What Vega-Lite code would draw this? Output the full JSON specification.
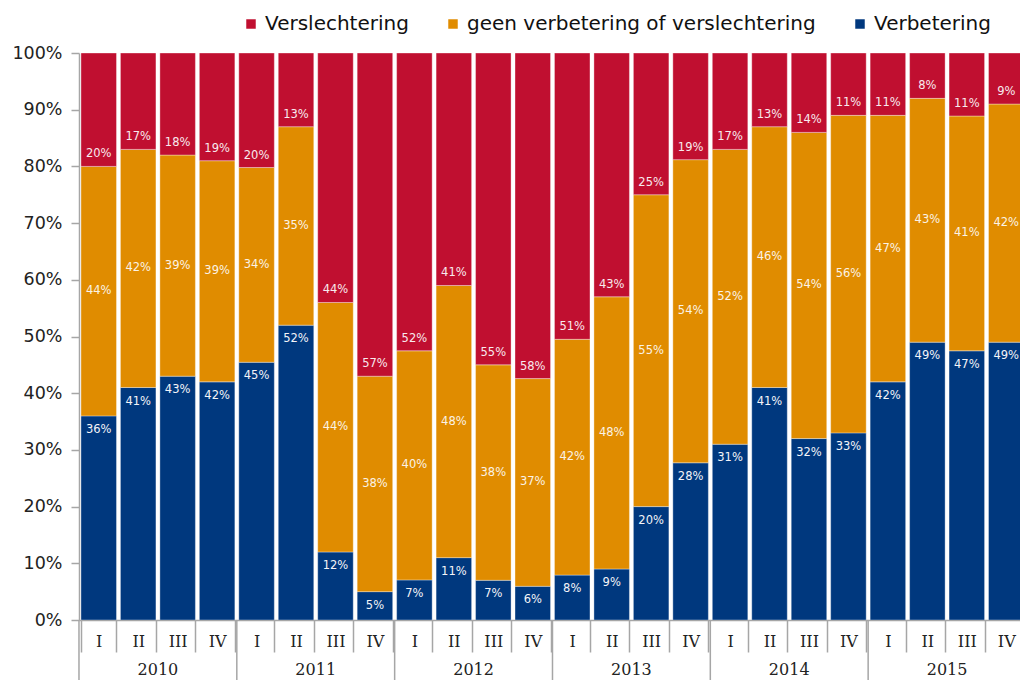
{
  "$schema": "https://vega.github.io/schema/vega-lite/v6.json",
  "width": 941,
  "height": 567,
  "autosize": {"type": "none"},
  "padding": {"left": 79, "top": 53, "right": 0, "bottom": 60},
  "background": "white",
  "config": {
    "view": {"stroke": null},
    "axis": {"grid": false}
  },
  "datasets": {
    "main": [
      {"period": "2010 I", "up": 0.36, "same": 0.44, "down": 0.20},
      {"period": "2010 II", "up": 0.41, "same": 0.42, "down": 0.17},
      {"period": "2010 III", "up": 0.43, "same": 0.39, "down": 0.18},
      {"period": "2010 IV", "up": 0.42, "same": 0.39, "down": 0.19},
      {"period": "2011 I", "up": 0.45, "same": 0.34, "down": 0.20},
      {"period": "2011 II", "up": 0.52, "same": 0.35, "down": 0.13},
      {"period": "2011 III", "up": 0.12, "same": 0.44, "down": 0.44},
      {"period": "2011 IV", "up": 0.05, "same": 0.38, "down": 0.57},
      {"period": "2012 I", "up": 0.07, "same": 0.40, "down": 0.52},
      {"period": "2012 II", "up": 0.11, "same": 0.48, "down": 0.41},
      {"period": "2012 III", "up": 0.07, "same": 0.38, "down": 0.55},
      {"period": "2012 IV", "up": 0.06, "same": 0.37, "down": 0.58},
      {"period": "2013 I", "up": 0.08, "same": 0.42, "down": 0.51},
      {"period": "2013 II", "up": 0.09, "same": 0.48, "down": 0.43},
      {"period": "2013 III", "up": 0.20, "same": 0.55, "down": 0.25},
      {"period": "2013 IV", "up": 0.28, "same": 0.54, "down": 0.19},
      {"period": "2014 I", "up": 0.31, "same": 0.52, "down": 0.17},
      {"period": "2014 II", "up": 0.41, "same": 0.46, "down": 0.13},
      {"period": "2014 III", "up": 0.32, "same": 0.54, "down": 0.14},
      {"period": "2014 IV", "up": 0.33, "same": 0.56, "down": 0.11},
      {"period": "2015 I", "up": 0.42, "same": 0.47, "down": 0.11},
      {"period": "2015 II", "up": 0.49, "same": 0.43, "down": 0.08},
      {"period": "2015 III", "up": 0.47, "same": 0.41, "down": 0.11},
      {"period": "2015 IV", "up": 0.49, "same": 0.42, "down": 0.09}
    ],
    "years": [
      {"year": "2010", "first": "2010 I", "mid": "2010 III"},
      {"year": "2011", "first": "2011 I", "mid": "2011 III"},
      {"year": "2012", "first": "2012 I", "mid": "2012 III"},
      {"year": "2013", "first": "2013 I", "mid": "2013 III"},
      {"year": "2014", "first": "2014 I", "mid": "2014 III"},
      {"year": "2015", "first": "2015 I", "mid": "2015 III"}
    ]
  },
  "layer": [
    {
      "data": {"name": "main"},
      "transform": [
        {"fold": ["up", "same", "down"], "as": ["cat", "value"]},
        {"stack": "value", "groupby": ["period"], "sort": [{"field": "cat", "order": "descending"}], "offset": "normalize", "as": ["v0", "v1"]}
      ],
      "mark": {"type": "bar", "clip": true, "stroke": "#ffffff", "strokeOpacity": 0.35, "strokeWidth": 1},
      "encoding": {
        "x": {
          "field": "period", "type": "nominal", "sort": null, "title": null,
          "scale": {
            "domain": ["2010 I","2010 II","2010 III","2010 IV","2011 I","2011 II","2011 III","2011 IV","2012 I","2012 II","2012 III","2012 IV","2013 I","2013 II","2013 III","2013 IV","2014 I","2014 II","2014 III","2014 IV","2015 I","2015 II","2015 III","2015 IV"],
            "range": [0, 947],
            "paddingInner": 0.1, "paddingOuter": 0.05
          },
          "axis": {
            "labelExpr": "split(datum.label, ' ')[1]",
            "labelAngle": 0,
            "labelFont": "DejaVu Serif",
            "labelFontSize": 16,
            "labelColor": "#222222",
            "labelBaseline": "middle",
            "labelPadding": -11,
            "tickBand": "extent",
            "tickSize": 32,
            "tickColor": "#a6a6a6",
            "tickWidth": 1.5,
            "domainColor": "#a6a6a6",
            "domainWidth": 1.5
          }
        },
        "y": {
          "field": "v0", "type": "quantitative", "title": null,
          "scale": {"domain": [0, 1], "nice": false},
          "axis": {
            "values": [0, 0.1, 0.2, 0.3, 0.4, 0.5, 0.6, 0.7, 0.8, 0.9, 1],
            "format": ".0%",
            "labelFont": "DejaVu Sans",
            "labelFontSize": 17.5,
            "labelColor": "#222222",
            "labelPadding": 9,
            "tickSize": 8,
            "tickColor": "#a6a6a6",
            "tickWidth": 1.5,
            "domainColor": "#a6a6a6",
            "domainWidth": 1.5
          }
        },
        "y2": {"field": "v1"},
        "color": {
          "field": "cat", "type": "nominal",
          "scale": {"domain": ["down", "same", "up"], "range": ["#C00F30", "#E08C00", "#00387E"]},
          "legend": {
            "title": null,
            "orient": "none",
            "legendX": 162,
            "legendY": -39,
            "direction": "horizontal",
            "symbolType": "square",
            "symbolSize": 90,
            "symbolStrokeWidth": 0,
            "labelFont": "DejaVu Sans",
            "labelFontSize": 20,
            "labelColor": "#111111",
            "labelOffset": 4,
            "columnPadding": 34,
            "labelLimit": 500,
            "labelExpr": "datum.label == 'down' ? 'Verslechtering' : datum.label == 'same' ? 'geen verbetering of verslechtering' : 'Verbetering'"
          }
        }
      }
    },
    {
      "data": {"name": "main"},
      "transform": [
        {"fold": ["up", "same", "down"], "as": ["cat", "value"]},
        {"stack": "value", "groupby": ["period"], "sort": [{"field": "cat", "order": "descending"}], "offset": "normalize", "as": ["v0", "v1"]},
        {"filter": "datum.cat == 'up'"}
      ],
      "mark": {"type": "text", "font": "DejaVu Sans", "fontSize": 11.5, "color": "#f4f4f8", "baseline": "middle", "dy": 14},
      "encoding": {
        "x": {"field": "period", "type": "nominal", "sort": null},
        "y": {"field": "v1", "type": "quantitative"},
        "text": {"field": "value", "type": "quantitative", "format": ".0%"}
      }
    },
    {
      "data": {"name": "main"},
      "transform": [
        {"fold": ["up", "same", "down"], "as": ["cat", "value"]},
        {"stack": "value", "groupby": ["period"], "sort": [{"field": "cat", "order": "descending"}], "offset": "normalize", "as": ["v0", "v1"]},
        {"filter": "datum.cat == 'same'"},
        {"fold": ["v0", "v1"], "as": ["edge", "pos"]},
        {"aggregate": [{"op": "mean", "field": "pos", "as": "mid"}], "groupby": ["period", "value"]}
      ],
      "mark": {"type": "text", "font": "DejaVu Sans", "fontSize": 11.5, "color": "#fbf3e6", "baseline": "middle"},
      "encoding": {
        "x": {"field": "period", "type": "nominal", "sort": null},
        "y": {"field": "mid", "type": "quantitative"},
        "text": {"field": "value", "type": "quantitative", "format": ".0%"}
      }
    },
    {
      "data": {"name": "main"},
      "transform": [
        {"fold": ["up", "same", "down"], "as": ["cat", "value"]},
        {"stack": "value", "groupby": ["period"], "sort": [{"field": "cat", "order": "descending"}], "offset": "normalize", "as": ["v0", "v1"]},
        {"filter": "datum.cat == 'down'"}
      ],
      "mark": {"type": "text", "font": "DejaVu Sans", "fontSize": 11.5, "color": "#f8eaee", "baseline": "middle", "dy": -12},
      "encoding": {
        "x": {"field": "period", "type": "nominal", "sort": null},
        "y": {"field": "v0", "type": "quantitative"},
        "text": {"field": "value", "type": "quantitative", "format": ".0%"}
      }
    },
    {
      "data": {"name": "years"},
      "mark": {"type": "rule", "color": "#a6a6a6", "strokeWidth": 1.5},
      "encoding": {
        "x": {"field": "first", "type": "nominal", "bandPosition": -0.056},
        "y": {"datum": 0},
        "y2": {"datum": -0.12}
      }
    },
    {
      "data": {"name": "years"},
      "mark": {"type": "text", "font": "DejaVu Serif", "fontSize": 16, "color": "#222222", "baseline": "middle"},
      "encoding": {
        "x": {"field": "mid", "type": "nominal", "bandPosition": -0.056},
        "y": {"datum": -0.088},
        "text": {"field": "year"}
      }
    }
  ]
}
